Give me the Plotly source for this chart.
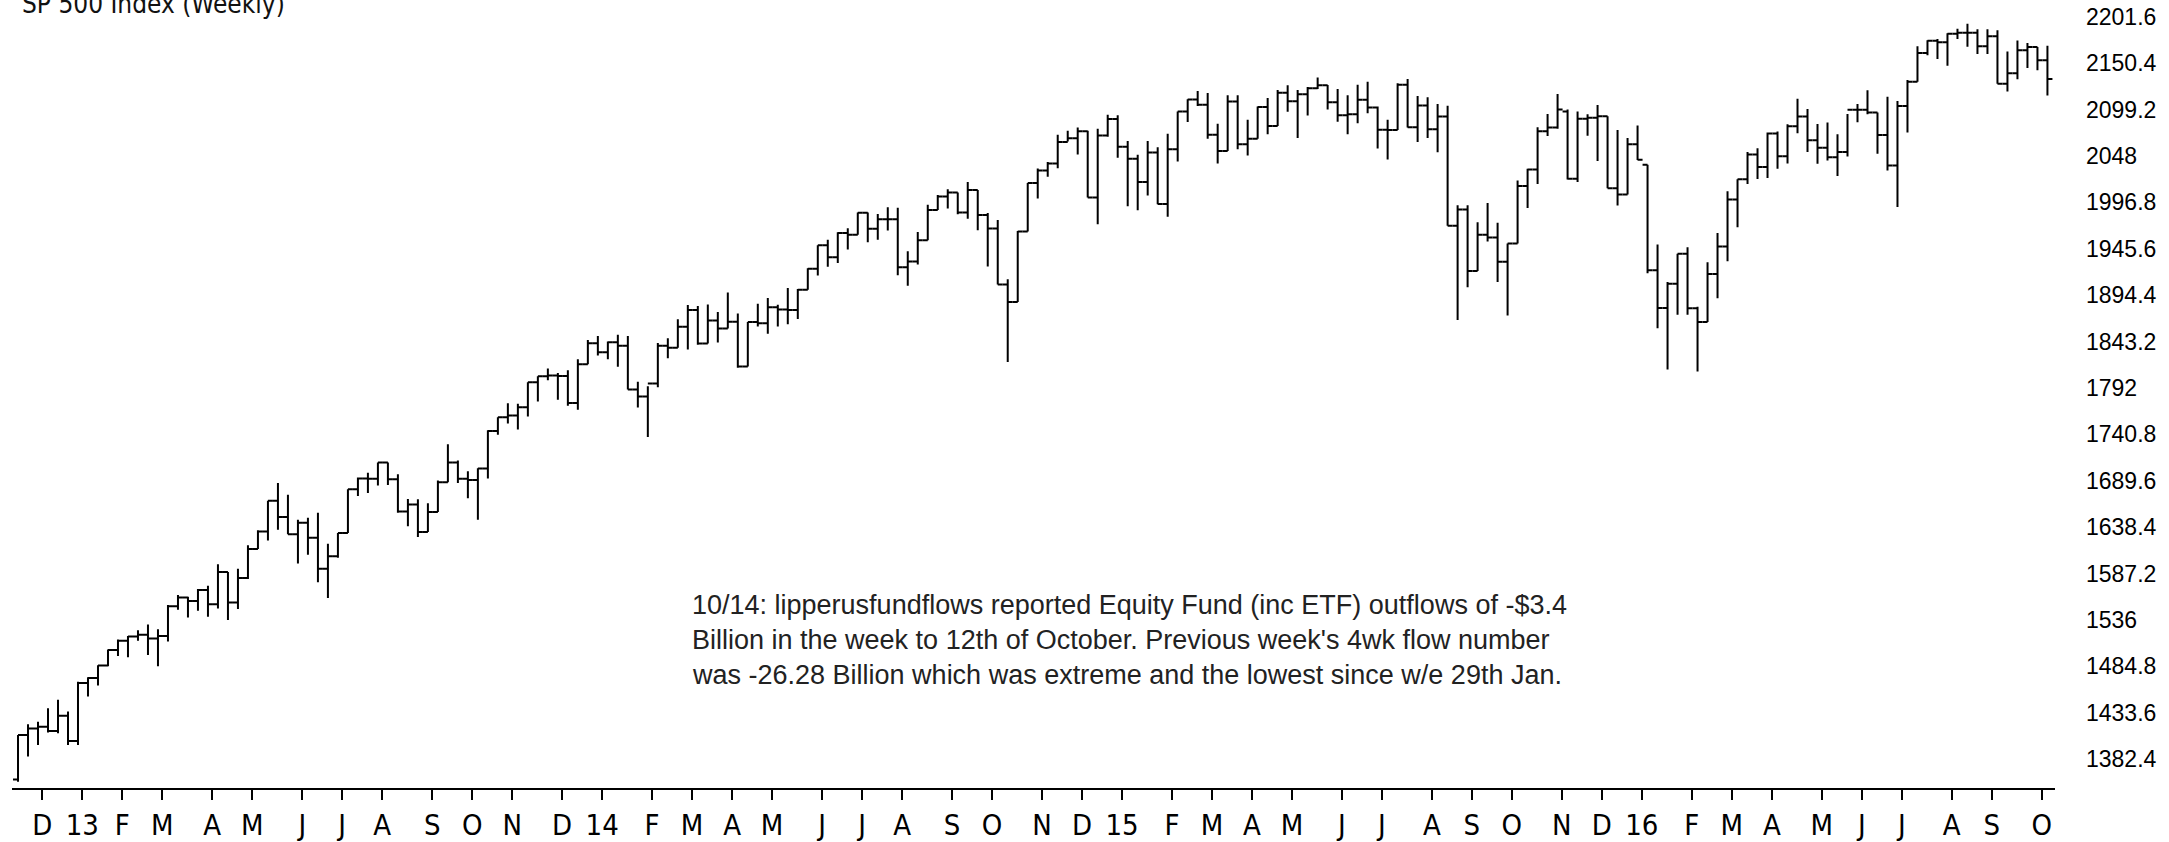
import pandas as pd
import plotly.graph_objects as go

# weekly bars, week ending Friday, 23 Nov 2012 .. 14 Oct 2016
week_end = pd.date_range("2012-11-23", "2016-10-14", freq="W-FRI")

opens = [
    # 2012
    1359.9, 1409.2, 1416.2, 1418.1, 1413.6, 1430.2,
    # 2013
    1402.4, 1466.5, 1472.1, 1485.9, 1503.0, 1513.2, 1517.9, 1519.8,
    1515.6, 1518.2, 1551.2, 1560.7, 1556.9, 1569.2, 1553.3, 1588.9, 1555.3,
    1582.2, 1614.4, 1633.7, 1667.5, 1649.6, 1630.7, 1643.4, 1626.7, 1592.4,
    1606.3, 1631.9, 1680.2, 1692.1, 1691.7, 1709.7, 1691.4, 1655.8, 1663.5,
    1633.0, 1655.2, 1688.0, 1709.9, 1691.8, 1690.5, 1703.2, 1744.5,
    1759.8, 1761.6, 1770.6, 1798.2, 1804.8, 1805.8, 1805.1, 1775.3, 1818.3,
    # 2014
    1841.4, 1831.4, 1842.4, 1838.7, 1790.3, 1782.6, 1797.0, 1838.6, 1836.3,
    1859.5, 1878.0, 1841.1, 1866.5, 1857.6, 1865.1, 1815.7, 1864.9,
    1863.4, 1881.1, 1878.5, 1877.9, 1900.5, 1923.6, 1949.4, 1936.2, 1962.9,
    1961.0, 1985.4, 1967.6, 1978.2, 1978.3, 1925.2, 1931.6, 1955.1, 1988.4,
    2003.4, 2007.7, 1985.5, 2010.4, 1982.9, 1967.9, 1906.1, 1886.8, 1964.6,
    2018.1, 2031.9, 2039.8, 2063.5, 2067.6, 2075.4, 2002.3, 2070.7,
    # 2015
    2088.8, 2058.2, 2044.8, 2019.4, 2051.8, 1995.0, 2055.5, 2097.0, 2110.3,
    2104.5, 2071.3, 2053.4, 2108.1, 2061.0, 2067.0, 2102.1, 2081.2,
    2117.7, 2108.3, 2116.1, 2122.7, 2126.1, 2107.4, 2092.8, 2094.1, 2110.0,
    2101.5, 2076.8, 2076.6, 2126.6, 2079.7, 2103.8, 2077.6, 2091.5, 1970.9,
    1988.9, 1921.2, 1961.1, 1958.1, 1931.3, 1951.4, 2014.9, 2033.1, 2075.2,
    2079.4, 2097.0, 2023.0, 2089.2, 2090.1, 2091.7, 2012.4, 2005.6,
    # 2016
    2061.0, 2038.2, 1922.0, 1880.3, 1906.9, 1940.2, 1880.1, 1864.8, 1917.8,
    1948.1, 2000.0, 2022.2, 2049.6, 2035.9, 2072.8, 2047.6, 2080.7, 2091.6,
    2065.3, 2057.1, 2046.6, 2052.3, 2099.1, 2099.1, 2096.1, 2071.2,
    2037.4, 2103.0, 2129.9, 2161.7, 2175.0, 2173.6, 2182.9, 2184.1, 2183.9,
    2169.0, 2180.0, 2127.8, 2139.2, 2164.7, 2168.3, 2153.7,
]

highs = [
    # 2012
    1409.2, 1421.0, 1423.7, 1438.6, 1448.0, 1435.1,
    # 2013
    1467.9, 1472.8, 1486.0, 1503.3, 1514.4, 1518.3, 1524.7, 1530.9,
    1525.8, 1552.5, 1563.6, 1561.6, 1570.3, 1573.7, 1597.4, 1588.9, 1592.6,
    1618.5, 1635.0, 1667.5, 1687.2, 1674.2, 1646.5, 1648.7, 1654.2, 1620.1,
    1632.1, 1680.2, 1693.1, 1698.4, 1709.7, 1709.7, 1696.8, 1669.5, 1669.2,
    1664.8, 1689.9, 1729.9, 1711.9, 1700.0, 1703.4, 1745.3, 1759.8,
    1775.2, 1774.5, 1798.2, 1804.8, 1813.6, 1808.4, 1811.5, 1823.8, 1844.9,
    # 2014
    1849.4, 1843.2, 1850.8, 1849.3, 1798.8, 1793.9, 1841.6, 1846.9, 1867.9,
    1883.6, 1882.4, 1884.0, 1875.9, 1897.3, 1874.2, 1864.9, 1884.9,
    1891.3, 1883.7, 1902.2, 1901.3, 1924.0, 1949.4, 1955.6, 1963.9, 1968.2,
    1985.6, 1985.6, 1983.9, 1991.4, 1991.0, 1942.9, 1964.0, 1994.1, 2005.0,
    2011.2, 2007.7, 2019.3, 2010.4, 1985.2, 1977.4, 1912.1, 1965.3, 2018.2,
    2034.3, 2041.3, 2071.5, 2075.8, 2079.5, 2075.8, 2077.9, 2093.6,
    # 2015
    2093.0, 2064.4, 2049.3, 2064.6, 2057.6, 2072.4, 2097.0, 2110.6, 2119.6,
    2117.5, 2083.5, 2114.9, 2114.9, 2088.0, 2102.6, 2111.9, 2120.9,
    2125.9, 2120.9, 2124.0, 2134.7, 2126.2, 2121.9, 2115.0, 2126.6, 2129.9,
    2102.6, 2087.9, 2128.3, 2132.8, 2114.2, 2112.7, 2105.4, 2103.5, 1993.5,
    1993.5, 1975.0, 1996.0, 1974.2, 1951.4, 2020.9, 2034.0, 2079.7, 2094.3,
    2116.5, 2099.2, 2097.1, 2094.1, 2104.3, 2091.7, 2076.7, 2067.7,
    # 2016
    2081.6, 2038.2, 1950.3, 1908.8, 1940.2, 1947.2, 1881.6, 1930.7, 1963.0,
    2009.1, 2022.4, 2052.4, 2056.6, 2074.0, 2075.1, 2083.1, 2111.1, 2099.9,
    2083.4, 2084.9, 2071.9, 2094.3, 2105.3, 2120.6, 2096.1, 2113.3,
    2108.7, 2131.7, 2169.1, 2175.6, 2177.1, 2183.5, 2188.5, 2193.8, 2187.7,
    2187.9, 2186.6, 2163.3, 2175.3, 2172.7, 2168.3, 2169.6,
]

lows = [
    # 2012
    1357.5, 1385.4, 1398.1, 1411.9, 1411.0, 1398.1,
    # 2013
    1398.1, 1451.6, 1463.8, 1485.0, 1496.3, 1495.0, 1513.2, 1497.3,
    1485.0, 1512.3, 1547.4, 1538.6, 1546.2, 1539.5, 1548.6, 1536.0, 1548.2,
    1581.3, 1614.4, 1623.8, 1635.5, 1630.7, 1598.2, 1608.1, 1577.7, 1560.3,
    1604.6, 1631.9, 1672.9, 1676.0, 1684.4, 1684.9, 1654.2, 1639.4, 1627.5,
    1633.0, 1655.2, 1688.0, 1687.1, 1670.4, 1646.5, 1692.1, 1740.5,
    1752.7, 1746.2, 1760.6, 1777.2, 1800.6, 1779.1, 1772.3, 1768.0, 1818.3,
    # 2014
    1827.7, 1823.7, 1815.3, 1790.3, 1770.5, 1737.9, 1792.9, 1824.9, 1836.3,
    1834.4, 1839.6, 1841.1, 1842.1, 1857.6, 1814.4, 1815.7, 1859.7,
    1851.7, 1859.8, 1862.4, 1868.1, 1900.5, 1916.0, 1925.8, 1930.0, 1944.7,
    1961.0, 1952.9, 1955.6, 1965.7, 1916.4, 1904.8, 1928.3, 1955.1, 1988.4,
    1990.1, 1983.6, 1978.6, 1966.0, 1926.0, 1906.1, 1820.7, 1886.8, 1964.6,
    2001.0, 2025.1, 2034.5, 2064.0, 2049.6, 2002.3, 1972.6, 2069.3,
    # 2015
    2046.0, 1992.4, 1988.1, 2004.5, 1994.8, 1980.9, 2041.9, 2085.4, 2103.0,
    2066.9, 2039.7, 2053.4, 2055.5, 2048.4, 2067.0, 2072.0, 2081.2,
    2096.9, 2067.9, 2092.7, 2122.0, 2099.2, 2085.7, 2072.1, 2084.0, 2095.0,
    2056.3, 2044.0, 2076.6, 2079.5, 2063.5, 2067.9, 2052.1, 1970.9, 1867.0,
    1903.1, 1921.2, 1953.5, 1908.8, 1871.9, 1951.4, 1990.7, 2017.2, 2069.9,
    2077.9, 2022.0, 2019.4, 2070.3, 2042.4, 2012.4, 1993.3, 2005.6,
    # 2016
    2043.6, 1918.5, 1857.8, 1812.3, 1872.7, 1872.7, 1810.1, 1864.8, 1891.0,
    1931.8, 1969.3, 2017.1, 2022.5, 2023.7, 2033.8, 2039.7, 2073.1, 2052.3,
    2039.5, 2043.1, 2025.9, 2047.3, 2085.1, 2094.1, 2050.4, 2032.1,
    1991.7, 2074.0, 2129.9, 2159.0, 2155.0, 2147.6, 2177.0, 2168.5, 2160.4,
    2160.4, 2127.8, 2119.1, 2132.7, 2145.2, 2142.6, 2114.7,
]

closes = [
    # 2012
    1409.2, 1416.2, 1418.1, 1413.6, 1430.2, 1402.4,
    # 2013
    1466.5, 1472.1, 1485.9, 1503.0, 1513.2, 1517.9, 1519.8, 1515.6,
    1518.2, 1551.2, 1560.7, 1556.9, 1569.2, 1553.3, 1588.9, 1555.3, 1582.2,
    1614.4, 1633.7, 1667.5, 1649.6, 1630.7, 1643.4, 1626.7, 1592.4, 1606.3,
    1631.9, 1680.2, 1692.1, 1691.7, 1709.7, 1691.4, 1655.8, 1663.5, 1633.0,
    1655.2, 1688.0, 1709.9, 1691.8, 1690.5, 1703.2, 1744.5, 1759.8,
    1761.6, 1770.6, 1798.2, 1804.8, 1805.8, 1805.1, 1775.3, 1818.3, 1841.4,
    # 2014
    1831.4, 1842.4, 1838.7, 1790.3, 1782.6, 1797.0, 1838.6, 1836.3, 1859.5,
    1878.0, 1841.1, 1866.5, 1857.6, 1865.1, 1815.7, 1864.9, 1863.4,
    1881.1, 1878.5, 1877.9, 1900.5, 1923.6, 1949.4, 1936.2, 1962.9, 1961.0,
    1985.4, 1967.6, 1978.2, 1978.3, 1925.2, 1931.6, 1955.1, 1988.4, 2003.4,
    2007.7, 1985.5, 2010.4, 1982.9, 1967.9, 1906.1, 1886.8, 1964.6, 2018.1,
    2031.9, 2039.8, 2063.5, 2067.6, 2075.4, 2002.3, 2070.7, 2088.8,
    # 2015
    2058.2, 2044.8, 2019.4, 2051.8, 1995.0, 2055.5, 2097.0, 2110.3, 2104.5,
    2071.3, 2053.4, 2108.1, 2061.0, 2067.0, 2102.1, 2081.2, 2117.7,
    2108.3, 2116.1, 2122.7, 2126.1, 2107.4, 2092.8, 2094.1, 2110.0, 2101.5,
    2076.8, 2076.6, 2126.6, 2079.7, 2103.8, 2077.6, 2091.5, 1970.9, 1988.9,
    1921.2, 1961.1, 1958.1, 1931.3, 1951.4, 2014.9, 2033.1, 2075.2, 2079.4,
    2099.2, 2023.0, 2089.2, 2090.1, 2091.7, 2012.4, 2005.6, 2061.0,
    # 2016
    2043.9, 1922.0, 1880.3, 1906.9, 1940.2, 1880.1, 1864.8, 1917.8, 1948.1,
    2000.0, 2022.2, 2049.6, 2035.9, 2072.8, 2047.6, 2080.7, 2091.6, 2065.3,
    2057.1, 2046.6, 2052.3, 2099.1, 2099.1, 2096.1, 2071.2, 2037.4,
    2103.0, 2129.9, 2161.7, 2175.0, 2173.6, 2182.9, 2184.1, 2183.9, 2169.0,
    2180.0, 2127.8, 2139.2, 2164.7, 2168.3, 2153.7, 2133.0,
]

month_letters = ["J", "F", "M", "A", "M", "J", "J", "A", "S", "O", "N", "D"]
price_ticks = [1382.4, 1433.6, 1484.8, 1536, 1587.2, 1638.4, 1689.6, 1740.8,
               1792, 1843.2, 1894.4, 1945.6, 1996.8, 2048, 2099.2, 2150.4, 2201.6]

note_lines = [
    "10/14: lipperusfundflows reported Equity Fund (inc ETF) outflows of -$3.4",
    "Billion in the week to 12th of October. Previous week's 4wk flow number",
    "was -26.28 Billion which was extreme and the lowest since w/e 29th Jan.",
]

assert len(week_end) == len(opens) == len(highs) == len(lows) == len(closes)

# month ticks: first weekly bar of each month (January shows the year)
df = pd.DataFrame({"d": week_end})
firsts = df.groupby([df.d.dt.year, df.d.dt.month]).d.min().tolist()[1:]
tick_vals = [d + pd.Timedelta(days=3) for d in firsts]
tick_text = [f"{d.year % 100}" if d.month == 1 else month_letters[d.month - 1] for d in firsts]

W, H = 2169, 842
ML, MR, MT, MB = 12, 114, 0, 49

fig = go.Figure(go.Ohlc(
    x=week_end, open=opens, high=highs, low=lows, close=closes,
    increasing=dict(line=dict(color="black", width=2)),
    decreasing=dict(line=dict(color="black", width=2)),
    tickwidth=0.5, hoverinfo="skip",
))

narrow = "Liberation Sans Narrow, Arial Narrow, DejaVu Sans Condensed, sans-serif"

fig.update_layout(
    width=W, height=H,
    margin=dict(l=ML, r=MR, t=MT, b=MB),
    paper_bgcolor="white", plot_bgcolor="white",
    showlegend=False,
    xaxis=dict(
        type="date",
        range=[pd.Timestamp("2012-11-18 19:00"), pd.Timestamp("2016-10-19 07:00")],
        rangeslider=dict(visible=False),
        showgrid=False, zeroline=False,
        showline=True, linecolor="black", linewidth=2,
        ticks="outside", ticklen=10, tickwidth=2, tickcolor="black",
        tickvals=tick_vals, ticktext=tick_text,
        tickfont=dict(family=narrow, size=29, color="black"),
    ),
    yaxis=dict(
        side="right",
        range=[1350.6, 2220.1],
        showgrid=False, zeroline=False, showline=False,
        ticks="",
        tickvals=price_ticks, ticktext=[f"{v:g}" for v in price_ticks],
        tickfont=dict(family="Liberation Sans, Arial, sans-serif", size=23, color="black"),
        ticklabelstandoff=30,
    ),
)

# title sits partly above the top edge, as in the source screenshot
fig.add_annotation(
    xref="paper", yref="paper", x=0, y=1, xshift=8, yshift=-21,
    xanchor="left", yanchor="bottom", showarrow=False,
    text="SP 500 Index (Weekly)",
    font=dict(family=narrow, size=26, color="#111"),
)

plot_h = H - MT - MB
plot_w = W - ML - MR
for i, line in enumerate(note_lines):
    mid = 609 + 35 * i
    fig.add_annotation(
        xref="paper", yref="paper",
        x=(690 - ML) / plot_w, y=1 - (mid - MT) / plot_h,
        xanchor="left", yanchor="middle", showarrow=False,
        text=line,
        font=dict(family="Liberation Sans, Arial, sans-serif", size=27, color="#222"),
    )

fig.write_html("out.html", config={"displayModeBar": False},
               post_script="document.body.style.margin='0';")
